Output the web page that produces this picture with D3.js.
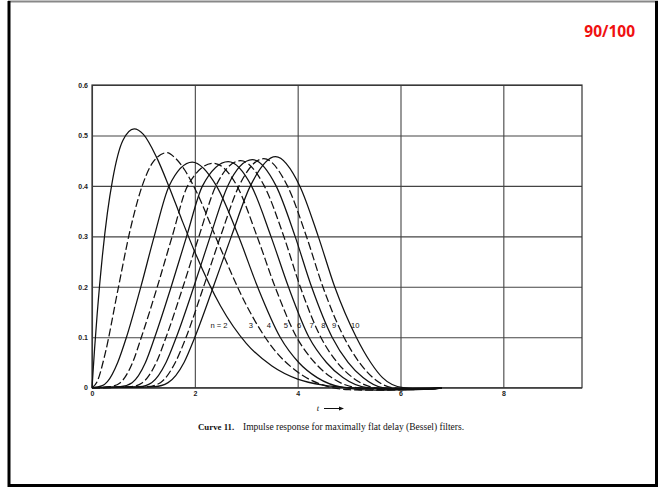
<!DOCTYPE html>
<html>
<head>
<meta charset="utf-8">
<script src="https://cdn.jsdelivr.net/npm/d3@7"></script>
<style>
  html, body { margin: 0; padding: 0; background: #fff; }
  svg { display: block; }
  .tick text { font-family: "Liberation Sans", Arial, sans-serif; font-size: 7px; font-weight: 700; fill: #222; }
</style>
</head>
<body>
<div id="chart"></div>
<script>
// --- data (t in seconds, impulse response h(t)) ---
const ORDERS = [2, 3, 4, 5, 6, 7, 8, 9, 10];
const ORDER_LABELS = ["n = 2", "3", "4", "5", "6", "7", "8", "9", "10"];
const LABEL_T = [2.47, 3.09, 3.44, 3.77, 4.03, 4.27, 4.5, 4.71, 5.12];
const LABEL_V = 0.124;
const X_TICKS = [0, 2, 4, 6, 8];
const Y_TICKS = [0, 0.1, 0.2, 0.3, 0.4, 0.5, 0.6];

const n2_t = [0, 0.05, 0.1, 0.2, 0.3, 0.4, 0.6, 0.82, 1.0, 1.25, 1.5, 1.75, 2.0, 2.5, 3.0, 3.5, 4.0, 4.5, 5.0, 5.5, 6.0, 6.8];
const n2_v = [0, 0.077, 0.145, 0.259, 0.347, 0.412, 0.490, 0.513, 0.502, 0.458, 0.398, 0.332, 0.269, 0.162, 0.088, 0.043, 0.017, 0.005, 0, -0.002, -0.002, 0];
const n3_t = [0, 0.1, 0.25, 0.5, 0.75, 1.0, 1.2, 1.46, 1.6, 1.8, 2.0, 2.5, 3.0, 3.5, 4.0, 4.5, 5.0, 5.5, 6.0, 6.8];
const n3_v = [0, 0.012, 0.065, 0.192, 0.316, 0.407, 0.449, 0.466, 0.457, 0.432, 0.395, 0.276, 0.164, 0.081, 0.031, 0.005, -0.004, -0.005, -0.004, -0.001];
const n4_t = [0, 0.2, 0.3, 0.5, 0.67, 0.95, 1.21, 1.50, 1.95, 2.42, 2.85, 3.22, 3.66, 4.02, 4.38, 4.9, 5.5, 6.8];
const n4_v = [0, 0.004, 0.012, 0.05, 0.1, 0.2, 0.3, 0.4, 0.447, 0.4, 0.3, 0.2, 0.1, 0.05, 0.02, 0, -0.005, -0.001];
const n5_t = [0, 0.35, 0.55, 0.79, 0.96, 1.27, 1.56, 1.86, 2.36, 2.82, 3.21, 3.56, 3.98, 4.33, 4.66, 5.15, 5.8, 6.8];
const n5_v = [0, 0.002, 0.01, 0.05, 0.1, 0.2, 0.3, 0.4, 0.445, 0.4, 0.3, 0.2, 0.1, 0.05, 0.02, 0, -0.004, -0.001];
const n6_t = [0, 0.55, 0.78, 1.04, 1.22, 1.54, 1.84, 2.15, 2.65, 3.10, 3.48, 3.82, 4.22, 4.56, 4.88, 5.35, 6.0, 6.8];
const n6_v = [0, 0.002, 0.01, 0.05, 0.1, 0.2, 0.3, 0.4, 0.448, 0.4, 0.3, 0.2, 0.1, 0.05, 0.02, 0, -0.004, -0.001];
const n7_t = [0, 0.75, 0.98, 1.25, 1.44, 1.77, 2.08, 2.41, 2.89, 3.35, 3.73, 4.05, 4.45, 4.77, 5.07, 5.5, 6.1, 6.8];
const n7_v = [0, 0.002, 0.01, 0.05, 0.1, 0.2, 0.3, 0.4, 0.450, 0.4, 0.3, 0.2, 0.1, 0.05, 0.02, 0, -0.004, -0.001];
const n8_t = [0, 0.92, 1.16, 1.44, 1.64, 1.98, 2.30, 2.64, 3.12, 3.58, 3.95, 4.27, 4.67, 4.98, 5.27, 5.65, 6.2, 6.8];
const n8_v = [0, 0.002, 0.01, 0.05, 0.1, 0.2, 0.3, 0.4, 0.452, 0.4, 0.3, 0.2, 0.1, 0.05, 0.02, 0, -0.004, -0.001];
const n9_t = [0, 1.08, 1.33, 1.62, 1.83, 2.17, 2.50, 2.86, 3.34, 3.80, 4.17, 4.49, 4.90, 5.20, 5.46, 5.85, 6.35, 6.8];
const n9_v = [0, 0.002, 0.01, 0.05, 0.1, 0.2, 0.3, 0.4, 0.454, 0.4, 0.3, 0.2, 0.1, 0.05, 0.02, 0, -0.003, -0.001];
const n10_t = [0, 1.22, 1.48, 1.79, 2.0, 2.36, 2.71, 3.08, 3.57, 4.04, 4.40, 4.72, 5.14, 5.42, 5.65, 6.05, 6.5, 6.8];
const n10_v = [0, 0.002, 0.01, 0.05, 0.1, 0.2, 0.3, 0.4, 0.458, 0.4, 0.3, 0.2, 0.1, 0.05, 0.02, 0, -0.003, -0.001];

const CURVE_T = [n2_t, n3_t, n4_t, n5_t, n6_t, n7_t, n8_t, n9_t, n10_t];
const CURVE_V = [n2_v, n3_v, n4_v, n5_v, n6_v, n7_v, n8_v, n9_v, n10_v];

const W = 668, H = 488;
const svg = d3.select("#chart").append("svg").attr("width", W).attr("height", H);

svg.append("rect").attr("width", W).attr("height", H).attr("fill", "#fff");

// page frame: gray top edge, heavy black sides/bottom
svg.append("line").attr("x1", 8).attr("x2", 658).attr("y1", 1.5).attr("y2", 1.5)
  .attr("stroke", "#888").attr("stroke-width", 2);
svg.append("path").attr("d", "M9,1 V485.5 H656.5 V1")
  .attr("fill", "none").attr("stroke", "#000").attr("stroke-width", 3);

// score
svg.append("text").attr("x", 635).attr("y", 37).attr("text-anchor", "end")
  .attr("font-family", "'Open Sans', 'DejaVu Sans', sans-serif").attr("font-weight", 700)
  .attr("font-size", 15.5).attr("fill", "#f01010").text("90/100");

const x = d3.scaleLinear().domain([0, 9.53]).range([92, 582]);
const y = d3.scaleLinear().domain([0, 0.6]).range([387.7, 85]);
const [x0, x1] = x.range(), [y0, y1] = y.range();

// grid via axes
const gy = svg.append("g").attr("transform", `translate(${x0},0)`)
  .call(d3.axisLeft(y).tickValues(Y_TICKS).tickSize(-(x1 - x0)).tickPadding(4)
    .tickFormat(d => d === 0 ? "0" : d3.format(".1f")(d)));
gy.select(".domain").remove();
gy.selectAll(".tick line").attr("stroke", "#444").attr("stroke-width", 1.1);

const gx = svg.append("g").attr("transform", `translate(0,${y0})`)
  .call(d3.axisBottom(x).tickValues(X_TICKS).tickSize(-(y0 - y1)).tickPadding(3)
    .tickFormat(d3.format("d")));
gx.select(".domain").remove();
gx.selectAll(".tick line").attr("stroke", "#444").attr("stroke-width", 1.1);

svg.append("rect").attr("x", x0).attr("y", y1).attr("width", x1 - x0).attr("height", y0 - y1)
  .attr("fill", "none").attr("stroke", "#333").attr("stroke-width", 1.2);

// curves
const line = d3.line().x(d => x(d[0])).y(d => y(d[1])).curve(d3.curveMonotoneX);
ORDERS.forEach((n, i) => {
  const pts = CURVE_T[i].map((t, j) => [t, CURVE_V[i][j]]);
  svg.append("path").datum(pts).attr("d", line)
    .attr("fill", "none").attr("stroke", "#111").attr("stroke-width", 1.25)
    .attr("stroke-dasharray", n % 2 === 1 ? "8,3" : null);
});

// order labels
svg.append("g").selectAll("text").data(ORDER_LABELS).join("text")
  .attr("x", (d, i) => x(LABEL_T[i])).attr("y", y(LABEL_V) + 2.7)
  .attr("text-anchor", "middle")
  .attr("font-family", "'Liberation Sans', Arial, sans-serif").attr("font-size", 7.6)
  .attr("fill", "#111").text(d => d);

// axis variable with arrow
svg.append("text").attr("x", 318).attr("y", 411).attr("text-anchor", "middle")
  .attr("font-family", "'Liberation Serif', serif").attr("font-style", "italic")
  .attr("font-size", 8.5).attr("fill", "#111").text("t");
svg.append("line").attr("x1", 324).attr("x2", 342).attr("y1", 408.5).attr("y2", 408.5)
  .attr("stroke", "#111").attr("stroke-width", 1);
svg.append("path").attr("d", "M339,406.5 L344,408.5 L339,410.5 Z").attr("fill", "#111");

// caption
svg.append("text").attr("x", 198).attr("y", 430)
  .attr("font-family", "'Liberation Serif', 'Times New Roman', serif").attr("font-size", 8.8)
  .attr("font-weight", 700).attr("fill", "#111").text("Curve 11.");
svg.append("text").attr("x", 243).attr("y", 430)
  .attr("font-family", "'Liberation Serif', 'Times New Roman', serif").attr("font-size", 9.5)
  .attr("fill", "#111").text("Impulse response for maximally flat delay (Bessel) filters.");
</script>
</body>
</html>
